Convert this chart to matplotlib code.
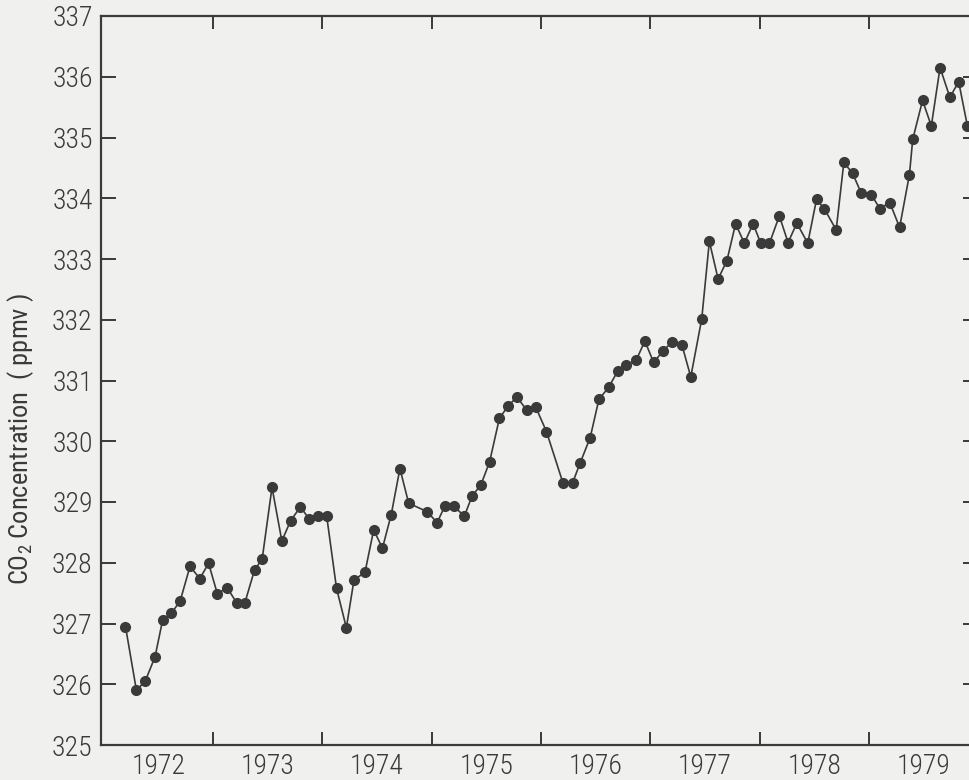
import matplotlib
matplotlib.use("Agg")
import matplotlib.pyplot as plt
from matplotlib import font_manager
from matplotlib.ticker import FixedLocator, NullFormatter

# sampling time (decimal year) and CO2 concentration (ppmv)
years = [
    1972.20, 1972.30, 1972.38, 1972.47, 1972.54, 1972.62, 1972.70, 1972.79,
    1972.88, 1972.96, 1973.04, 1973.13, 1973.22, 1973.29, 1973.38, 1973.45,
    1973.54, 1973.63, 1973.71, 1973.80, 1973.88, 1973.96, 1974.04, 1974.13,
    1974.22, 1974.29, 1974.39, 1974.47, 1974.55, 1974.63, 1974.71, 1974.79,
    1974.96, 1975.05, 1975.12, 1975.20, 1975.30, 1975.37, 1975.45, 1975.53,
    1975.62, 1975.70, 1975.78, 1975.87, 1975.95, 1976.05, 1976.20, 1976.29,
    1976.36, 1976.45, 1976.53, 1976.62, 1976.70, 1976.78, 1976.87, 1976.95,
    1977.03, 1977.12, 1977.20, 1977.29, 1977.37, 1977.47, 1977.54, 1977.62,
    1977.70, 1977.78, 1977.86, 1977.94, 1978.01, 1978.09, 1978.18, 1978.26,
    1978.34, 1978.44, 1978.52, 1978.59, 1978.70, 1978.77, 1978.85, 1978.93,
    1979.02, 1979.10, 1979.19, 1979.28, 1979.37, 1979.40, 1979.49, 1979.57,
    1979.65, 1979.74, 1979.82, 1979.90,
]
co2 = [
    326.95, 325.90, 326.05, 326.45, 327.06, 327.17, 327.37, 327.94,
    327.74, 327.99, 327.49, 327.59, 327.33, 327.33, 327.88, 328.06,
    329.24, 328.36, 328.69, 328.92, 328.72, 328.77, 328.77, 327.58,
    326.93, 327.72, 327.84, 328.54, 328.24, 328.79, 329.55, 328.98,
    328.84, 328.66, 328.93, 328.93, 328.77, 329.10, 329.28, 329.66,
    330.38, 330.58, 330.73, 330.51, 330.57, 330.16, 329.32, 329.32,
    329.65, 330.06, 330.69, 330.89, 331.15, 331.26, 331.33, 331.65,
    331.30, 331.49, 331.64, 331.58, 331.06, 332.01, 333.29, 332.67,
    332.97, 333.58, 333.26, 333.58, 333.26, 333.26, 333.71, 333.27,
    333.59, 333.26, 333.98, 333.83, 333.48, 334.59, 334.41, 334.08,
    334.06, 333.83, 333.93, 333.52, 334.39, 334.97, 335.61, 335.19,
    336.15, 335.66, 335.92, 335.19,
]

year_labels = ["1972", "1973", "1974", "1975", "1976", "1977", "1978", "1979"]
year_edges = [1973, 1974, 1975, 1976, 1977, 1978, 1979]
y_ticks = list(range(325, 338))


def pick_font(names):
    for n in names:
        try:
            font_manager.findfont(n, fallback_to_default=False)
            return n
        except ValueError:
            continue
    return "DejaVu Sans"


font = pick_font(["Liberation Sans Narrow", "DejaVu Sans Condensed", "Roboto Condensed", "Liberation Sans"])
plt.rcParams["font.family"] = [font, "DejaVu Sans"]
plt.rcParams["font.weight"] = "light"
plt.rcParams["mathtext.default"] = "regular"

ink = "#3a3a3a"
paper = "#f0f0ee"

fig = plt.figure(figsize=(9.69, 7.8), dpi=100, facecolor=paper)
ax = fig.add_axes([101 / 969, 35 / 780, 877 / 969, 729 / 780])
ax.set_facecolor(paper)

ax.plot(years, co2, color=ink, lw=1.2, marker="o", ms=7, mfc=ink, mec=ink)

ax.set_xlim(1971.976, 1979.997)
ax.set_ylim(325, 337)

ax.xaxis.set_major_locator(FixedLocator(year_edges))
ax.xaxis.set_major_formatter(NullFormatter())
ax.xaxis.set_minor_locator(FixedLocator([int(y) + 0.5 for y in year_labels]))
ax.set_xticklabels(year_labels, minor=True)
ax.set_yticks(y_ticks)

ax.tick_params(axis="x", which="major", direction="in", length=9.5, width=1.4,
               colors=ink, top=True, bottom=True)
ax.tick_params(axis="x", which="minor", length=0, pad=6, labelsize=20, labelcolor=ink)
ax.tick_params(axis="y", direction="in", length=10.5, width=1.4, colors=ink,
               left=True, right=True, pad=6, labelsize=20)

for s in ax.spines.values():
    s.set_color(ink)
    s.set_linewidth(1.6)

ax.set_ylabel("CO$_2$ Concentration  ( ppmv )", fontsize=19, color=ink)
ax.yaxis.set_label_coords(-0.074, 0.42)

fig.savefig("out.png", dpi=100, facecolor=paper)
